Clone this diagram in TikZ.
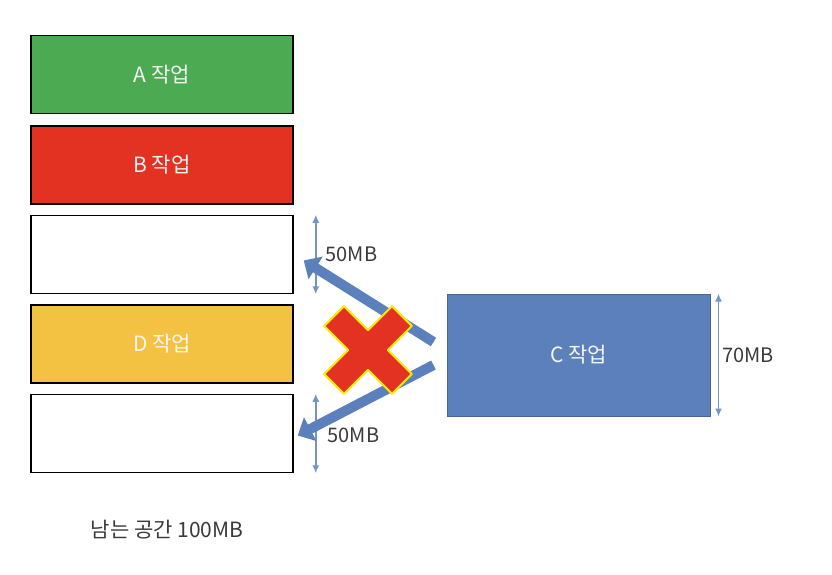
\documentclass[tikz,border=0pt]{standalone}
\usepackage{fontspec}
\setmainfont{Noto Sans CJK KR}
\usetikzlibrary{arrows.meta,positioning}
\definecolor{cgreen}{HTML}{4BAA52}
\definecolor{cred}{HTML}{E33122}
\definecolor{cyellow}{HTML}{F4C242}
\definecolor{cblue}{HTML}{5B80BC}
\definecolor{ctext}{HTML}{3A3A3A}

\begin{document}
\begin{tikzpicture}[x=1pt,y=-1pt,font=\fontsize{21}{24}\selectfont,>=Latex,node distance=10pt]
  \tikzstyle{slot}=[draw=black,line width=1.5pt,minimum width=262pt,minimum height=78pt,text=white!92!gray]
  \tikzstyle{size}=[{Latex[length=8pt,width=7pt]}-{Latex[length=8pt,width=7pt]},draw=cblue!85,line width=1.8pt]
  \tikzstyle{move}=[-{Triangle[length=14pt,width=26pt]},draw=cblue,line width=10pt]
  \tikzstyle{lbl}=[text=ctext,inner sep=3pt,font=\fontsize{20}{23}\selectfont]
  \useasboundingbox (0,0) rectangle (832,574);
  \node[slot,fill=cgreen] (a) at (162,74.5) {A 작업};
  \node[slot,fill=cred,below=11pt of a] (b) {B 작업};
  \node[slot,fill=white,below=of b] (e1) {};
  \node[slot,fill=cyellow,below=of e1] (d) {D 작업};
  \node[slot,fill=white,below=of d] (e2) {};
  \node[draw=cblue!80!black,fill=cblue,line width=1pt,minimum width=263pt,minimum height=122pt,text=white!92!gray] (c) at (578.5,355) {C 작업};
  % free space sizes
  \draw[size] ([xshift=22pt]e1.north east) -- node[lbl,right,xshift=6pt] (s1) {50MB} ([xshift=22pt]e1.south east);
  \draw[size] ([xshift=22pt]e2.north east) -- node[lbl,right,xshift=8pt,yshift=-2pt] (s2) {50MB} ([xshift=22pt]e2.south east);
  \draw[size] ([xshift=8pt]c.north east) -- node[lbl,right] (s3) {70MB} ([xshift=8pt]c.south east);
  % C does not fit
  \coordinate (c1) at ([xshift=-13pt,yshift=13pt]c.west);
  \coordinate (c2) at ([xshift=-13pt,yshift=-10pt]c.west);
  \draw[move] (c1) -- ([xshift=10pt,yshift=-6pt]e1.east);
  \draw[move] (c2) -- ([xshift=4pt,yshift=-2pt]e2.east);
  \draw[fill=cred,draw=yellow!90!orange,line width=2pt,line join=round,shift={(368,350)},rotate=45]
    (-14,-48) -- (14,-48) -- (14,-14) -- (48,-14) -- (48,14) -- (14,14)
    -- (14,48) -- (-14,48) -- (-14,14) -- (-48,14) -- (-48,-14) -- (-14,-14) -- cycle;
  \node[lbl,font=\fontsize{21}{24}\selectfont] (free) at (167,530) {남는 공간 100MB};
\end{tikzpicture}
\end{document}
